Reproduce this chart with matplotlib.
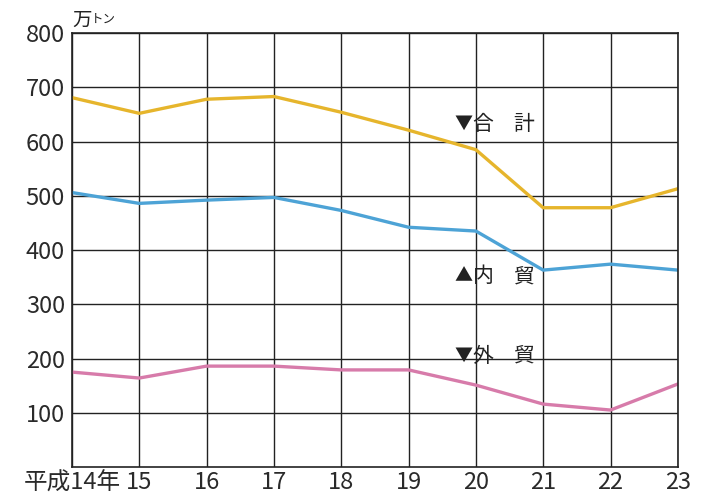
import matplotlib
matplotlib.use('Agg')
import matplotlib.pyplot as plt

years = ['平成14年', '15', '16', '17', '18', '19', '20', '21', '22', '23']
total = [681, 652, 678, 683, 654, 621, 585, 478, 478, 513]
domestic = [506, 486, 492, 497, 473, 442, 435, 363, 374, 363]
foreign = [175, 164, 186, 186, 179, 179, 151, 116, 105, 153]

fonts = ['Liberation Sans Narrow', 'Noto Sans CJK JP', 'DejaVu Sans']
plt.rcParams['font.family'] = fonts

fig = plt.figure(figsize=(7.12, 5.04), dpi=100)
ax = fig.add_axes([0.101, 0.0734, 0.851, 0.861])

x = list(range(len(years)))
ax.plot(x, total, color='#E6B52C', linewidth=2.4)
ax.plot(x, domestic, color='#4DA3D6', linewidth=2.4)
ax.plot(x, foreign, color='#D77BAA', linewidth=2.4)

ax.set_xlim(0, len(years) - 1)
ax.set_ylim(0, 800)
ax.set_xticks(x)
ax.set_xticklabels(years)
ax.set_yticks(range(100, 801, 100))
ax.grid(True, color='#222222', linewidth=1.0)
ax.set_axisbelow(True)
ax.tick_params(length=0, labelsize=17, colors='#2a2a2a', pad=5)
ax.tick_params(axis='x', pad=3)
for s in ax.spines.values():
    s.set_color('#222222')
    s.set_linewidth(1.2)

# series labels
jp = ['Noto Sans CJK JP', 'DejaVu Sans']
kw = dict(fontsize=15, family=jp, va='center', ha='left', color='#222222')
tri = dict(fontsize=13, family=jp, va='center', ha='right', color='#222222')
labels = [('▼', '合', '計', 632), ('▲', '内', '貿', 352), ('▼', '外', '貿', 205)]
for t, a, b, yv in labels:
    ax.text(5.95, yv, t, **tri)
    ax.text(5.95, yv, a, **kw)
    ax.text(6.56, yv, b, **kw)

# unit label
fig.text(0.101, 0.938, '万', fontsize=14, family=jp, ha='left', va='bottom', color='#222222')
fig.text(0.101 + 0.027, 0.948, 'トン', fontsize=9, family=jp, ha='left', va='bottom', color='#222222')

fig.savefig('out.png', dpi=100)
